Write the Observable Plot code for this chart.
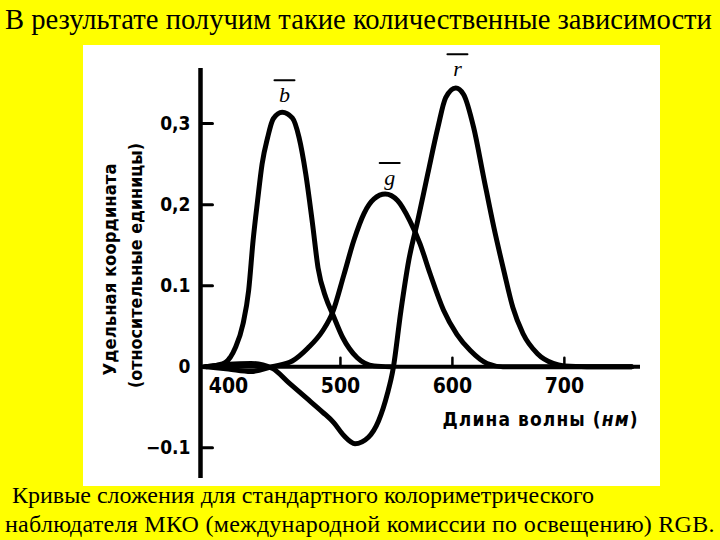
<!DOCTYPE html>
<html>
<head>
<meta charset="utf-8">
<script src="https://cdn.jsdelivr.net/npm/d3@7"></script>
<script src="https://cdn.jsdelivr.net/npm/@observablehq/plot@0.6"></script>
<style>
  html, body { margin: 0; padding: 0; }
  body { width: 720px; height: 540px; background: #ffff00; position: relative; overflow: hidden; }
  .serif { font-family: "Liberation Serif", "Times New Roman", serif; color: #000; position: absolute; white-space: nowrap; }
  #title { left: 5px; top: 4px; font-size: 28.6px; }
  #cap1 { left: 12px; top: 482px; font-size: 24px; }
  #cap2 { left: 5px; top: 511px; font-size: 24px; letter-spacing: 0.26px; }
  #chart { position: absolute; left: 83px; top: 45px; width: 577px; height: 441px; background: #fff; }
</style>
</head>
<body>
<div id="title" class="serif">В результате получим такие количественные зависимости</div>
<div id="chart"></div>
<div id="cap1" class="serif">Кривые сложения для стандартного колориметрического</div>
<div id="cap2" class="serif">наблюдателя МКО (международной комиссии по освещению) RGB.</div>
<script>
// ---- data ----
const bWl  = [378, 390, 397, 406, 413, 418, 422, 426, 430, 435, 440, 448, 457, 463, 469, 475, 480, 487, 493, 502, 515, 530, 545];
const bVal = [0, 0.002, 0.005, 0.023, 0.053, 0.094, 0.156, 0.205, 0.25, 0.283, 0.306, 0.314, 0.307, 0.283, 0.238, 0.177, 0.122, 0.085, 0.065, 0.036, 0.011, 0.001, 0];

const gWl  = [380, 400, 420, 439, 457, 471, 484, 493, 503, 512, 521, 530, 540, 551, 562, 571, 580, 592, 604, 616, 631, 645, 700, 760];
const gVal = [0, -0.003, -0.006, 0, 0.007, 0.023, 0.044, 0.067, 0.113, 0.156, 0.189, 0.207, 0.213, 0.205, 0.18, 0.152, 0.115, 0.07, 0.04, 0.02, 0.004, 0, 0, 0];

const rWl  = [380, 400, 420, 439, 454, 469, 484, 494, 503, 513, 525, 534, 542, 547, 554, 561, 569, 578, 587, 594, 603, 610, 619, 628, 637, 646, 654, 663, 676, 690, 700, 720, 760];
const rVal = [0, 0.003, 0.004, -0.002, -0.02, -0.038, -0.056, -0.069, -0.085, -0.095, -0.087, -0.067, -0.033, -0.003, 0.069, 0.131, 0.18, 0.238, 0.295, 0.332, 0.344, 0.336, 0.295, 0.233, 0.172, 0.118, 0.073, 0.041, 0.016, 0.004, 0.001, 0, 0];

const seriesNames = ["b", "g", "r"];
const labelWl  = [450, 544, 604.5];
const labelVal = [0.335, 0.233, 0.367];

const xTicks = [400, 500, 600, 700];
const xTickLabels = ["400", "500", "600", "700"];
const yTicks = [-0.1, 0, 0.1, 0.2, 0.3];
const yTickLabels = ["\u22120.1", "0", "0.1", "0,2", "0,3"];

const xDomain = [375, 768];
const yDomain = [-0.138, 0.368];

const xTitle = "Длина волны (нм)";
const yTitle1 = "Удельная координата";
const yTitle2 = "(относительные единицы)";

// ---- build table ----
const rows = [];
[[bWl, bVal, "b"], [gWl, gVal, "g"], [rWl, rVal, "r"]].forEach(([w, v, s]) => {
  w.forEach((wl, i) => rows.push({wl, v: v[i], s}));
});
const labels = seriesNames.map((s, i) => ({s, wl: labelWl[i], v: labelVal[i]}));

const sansFont = '"Liberation Sans Narrow", "DejaVu Sans Condensed", "Roboto Condensed", "Liberation Sans", sans-serif';
const tickShape = {draw(ctx, l) { ctx.moveTo(0, 0); ctx.lineTo(0, -l); }};

const chart = Plot.plot({
  width: 577,
  height: 441,
  marginLeft: 117,
  marginRight: 20,
  marginTop: 23,
  marginBottom: 8,
  style: {background: "white", fontFamily: sansFont, color: "black", overflow: "visible"},
  x: {domain: xDomain, axis: null},
  y: {domain: yDomain, axis: null},
  marks: [
    Plot.ruleX([xDomain[0]], {stroke: "black", strokeWidth: 4.5}),
    Plot.ruleY([0], {stroke: "black", strokeWidth: 4}),
    Plot.vector(yTicks, {y: d => d, frameAnchor: "left", rotate: 90, length: 12, anchor: "start", shape: tickShape, stroke: "black", strokeWidth: 3}),
    Plot.vector(xTicks, {x: d => d, y: 0, rotate: 0, length: 9, anchor: "start", shape: tickShape, stroke: "black", strokeWidth: 2.5}),
    Plot.axisY(yTicks, {anchor: "left", tickSize: 0, tickPadding: 10, tickFormat: (d, i) => yTickLabels[i], fontSize: 19, fontWeight: "bold", label: null}),
    Plot.text(xTicks, {x: d => d, y: 0, text: (d, i) => xTickLabels[i], dy: 20, fontSize: 21, fontWeight: "bold"}),
    Plot.line(rows, {x: "wl", y: "v", z: "s", stroke: "black", strokeWidth: 5, curve: "monotone-x", strokeLinejoin: "round", strokeLinecap: "round"}),
    Plot.text(labels, {x: "wl", y: "v", text: "s", fontFamily: '"Liberation Serif", serif', fontStyle: "italic", fontSize: 22}),
    Plot.vector(labels, {x: "wl", y: "v", dy: -15, rotate: 90, length: 20, anchor: "middle", shape: tickShape, stroke: "black", strokeWidth: 2}),
    Plot.text([xTitle], {frameAnchor: "bottom-right", textAnchor: "end", dx: -3, dy: -53, fontSize: 19, fontWeight: "bold"}),
    Plot.text([yTitle1], {frameAnchor: "left", textAnchor: "middle", rotate: -90, dx: -90, dy: -4, fontSize: 18, fontWeight: "bold"}),
    Plot.text([yTitle2], {frameAnchor: "left", textAnchor: "middle", rotate: -90, dx: -64, dy: -8, fontSize: 18, fontWeight: "bold"})
  ]
});
document.getElementById("chart").appendChild(chart);

// stretch / condense axis titles to the spans seen in the picture
chart.querySelectorAll("text").forEach(t => {
  const s = t.textContent;
  if (s === yTitle1) { t.setAttribute("textLength", 212); t.setAttribute("lengthAdjust", "spacingAndGlyphs"); }
  if (s === yTitle2) { t.setAttribute("textLength", 245); t.setAttribute("lengthAdjust", "spacingAndGlyphs"); }
  if (s === xTitle) {
    t.textContent = "";
    const ns = "http://www.w3.org/2000/svg";
    const a = document.createElementNS(ns, "tspan"); a.textContent = "Длина волны (";
    const b = document.createElementNS(ns, "tspan"); b.textContent = "нм"; b.setAttribute("font-style", "italic");
    const c = document.createElementNS(ns, "tspan"); c.textContent = ")";
    t.append(a, b, c);
    t.setAttribute("textLength", 195); t.setAttribute("lengthAdjust", "spacing");
  }
});
</script>
</body>
</html>
